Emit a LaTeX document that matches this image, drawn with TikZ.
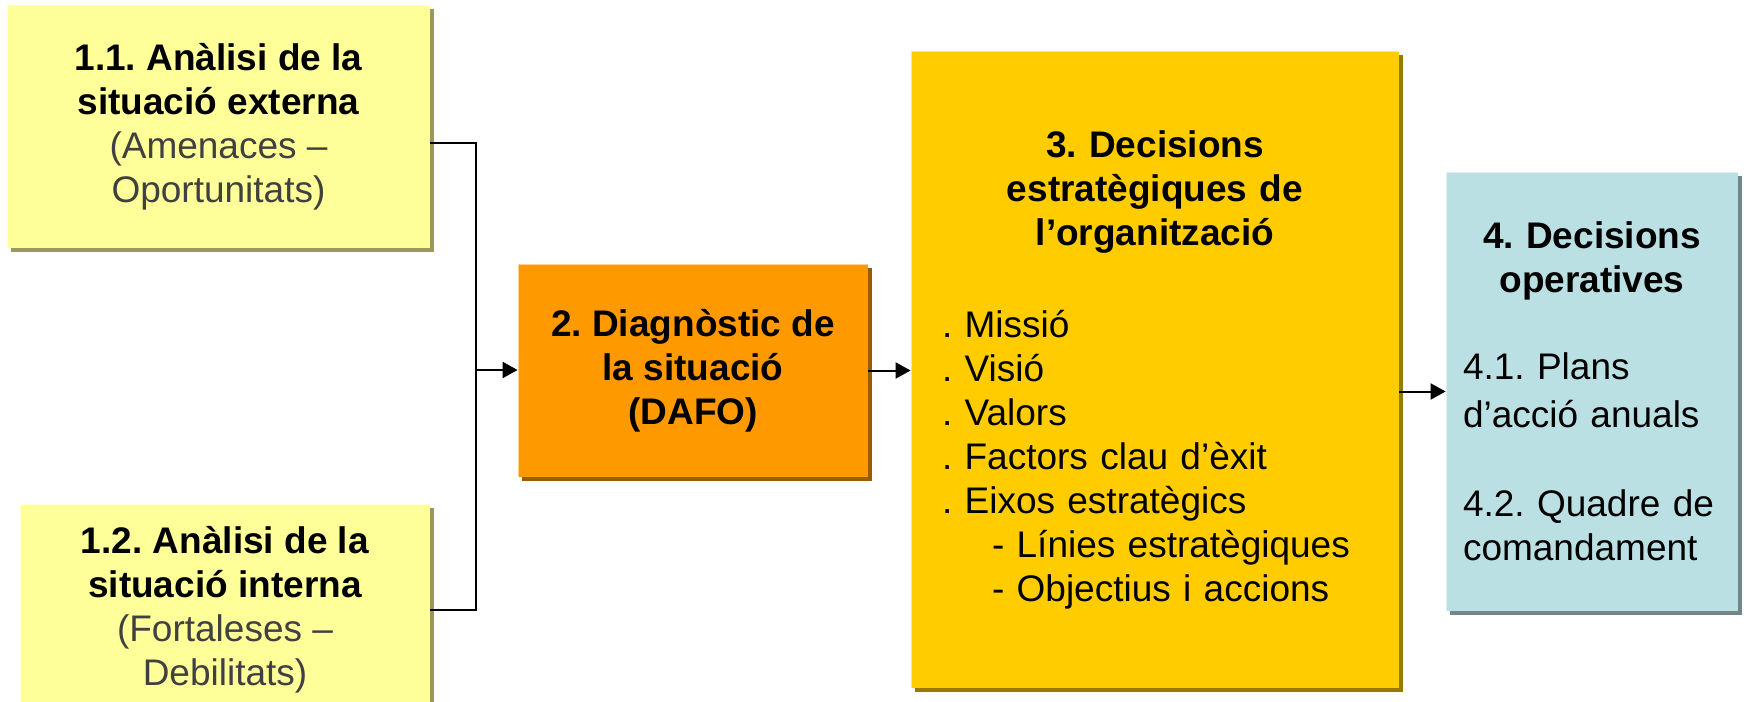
\documentclass[tikz,border=0pt]{standalone}
\usepackage{fontspec}
\setmainfont{Liberation Sans}
\usetikzlibrary{arrows.meta, shadows, positioning}
\definecolor{groc}{HTML}{FFFF99}
\definecolor{taronja}{HTML}{FF9900}
\definecolor{daurat}{HTML}{FFCC00}
\definecolor{blau}{HTML}{BBE0E3}
\definecolor{gris}{HTML}{404040}
\frenchspacing
\tikzset{
	caixa/.style={fill=#1, inner sep=0pt, drop shadow={shadow xshift=2pt, shadow yshift=-2pt, fill=#1!60!black, opacity=1}},
	vora/.style={draw=white, draw opacity=0.55, line width=1.5pt},
	linia/.style={line width=1pt},
	fletxa/.style={line width=1pt, -{Triangle[length=7.5pt, width=8pt]}}
}
\begin{document}
\begin{tikzpicture}[x=0.5pt, y=-0.5pt, font=\fontsize{18.5}{22}\selectfont]
			\useasboundingbox (0,0) rectangle (1748,701);
			% caixes de l'anàlisi
			\node[caixa=groc, minimum width=211.5pt, minimum height=121.5pt, align=center] (n11) at (218.5,126.5)
				{\textbf{1.1. Anàlisi de la}\\\textbf{situació externa}\\\textcolor{gris}{(Amenaces –}\\\textcolor{gris}{Oportunitats)}};
			\node[caixa=groc, minimum width=205pt, minimum height=105.5pt, align=center] (n12) at (225,609.5)
				{\textbf{1.2. Anàlisi de la}\\\textbf{situació interna}\\\textcolor{gris}{(Fortaleses –}\\\textcolor{gris}{Debilitats)}};
			% diagnòstic
			\node[caixa=taronja, minimum width=175pt, minimum height=106.5pt, align=center, font=\fontsize{18.5}{22}\selectfont\bfseries] (n2) at (693,370.5)
				{2. Diagnòstic de\\la situació\\(DAFO)};
			% decisions estratègiques
			\node[caixa=daurat, minimum width=244pt, minimum height=318.5pt, text width=213pt, align=left] (n3) at (1155,369.5)
				{{\centering\bfseries 3. Decisions\\estratègiques de\\l’organització\par}\vspace{24pt}
				. Missió\\. Visió\\. Valors\\. Factors clau d’èxit\\. Eixos estratègics\\
				\hspace*{25pt}- Línies estratègiques\\\hspace*{25pt}- Objectius i accions};
			% decisions operatives
			\node[caixa=blau, minimum width=146pt, minimum height=219.5pt, text width=129pt, align=left] (n4) at (1592,391.5)
				{{\centering\bfseries 4. Decisions\\operatives\par}\fontsize{18.5}{24}\selectfont\vspace{19.5pt}
				4.1. Plans\\d’acció anuals\\[20.5pt]4.2. Quadre de\\comandament};
			% llum a les vores
			\foreach \n in {n11,n12,n2,n3,n4} {
				\draw[vora] (\n.south west) -- (\n.north west) -- (\n.north east);
			}
			% connectors
			\coordinate (bus) at (476,370);
			\draw[linia] ([yshift=-8pt]n11.east) -| (bus) |- (n12.east);
			\draw[fletxa] (bus) -- (n2.west |- bus);
			\draw[fletxa] (n2.east) -- (n3.west |- n2.east);
			\draw[fletxa] (n3.east |- n4.west) -- (n4.west);
		\end{tikzpicture}
\end{document}
